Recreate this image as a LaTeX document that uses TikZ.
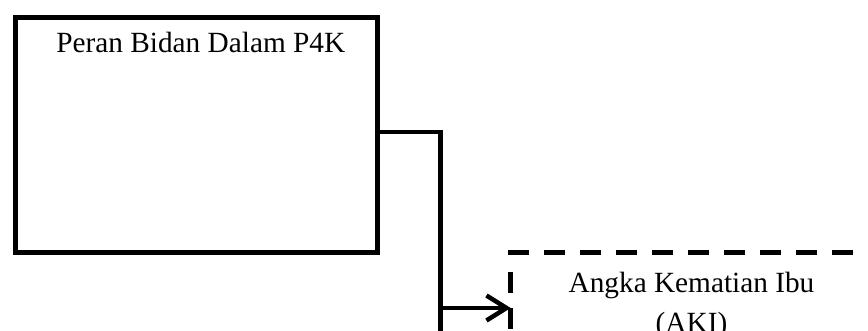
\documentclass[tikz,border=0pt]{standalone}
\usepackage{fontspec}
\setmainfont{Liberation Serif}
\usetikzlibrary{arrows.meta}
\begin{document}
\begin{tikzpicture}[x=1pt,y=-1pt,
  solidbox/.style={draw=black, line width=5pt, minimum width=362pt, minimum height=235.5pt, inner sep=0pt},
  hiddenbox/.style={draw=none, minimum width=362pt, minimum height=235.5pt, inner sep=0pt},
  dashline/.style={draw=black, line width=5pt, dash pattern=on 21pt off 15pt},
  conn/.style={draw=black, line width=4.5pt},
  arrowconn/.style={conn, -{Straight Barb[length=20pt,width=25pt]}},
  lbl/.style={font=\fontsize{29.3}{40}\selectfont, inner sep=0pt, align=center}
]
\useasboundingbox (0,0) rectangle (868,331);
\clip (0,0) rectangle (868,331);
\fill[white] (0,0) rectangle (868,331);
% box 1
\node[solidbox] (p4k) at (196.5,135.25) {};
\node[lbl, anchor=base] (p4ktext) at (200.8,53) {Peran Bidan Dalam P4K};
% box 2 (dashed, extends past the page)
\node[hiddenbox, anchor=north west] (aki) at (510.7,252.5) {};
\draw[dashline] ([xshift=-2.5pt]aki.north west) -- (aki.north east) -- (aki.south east) -- (aki.south west);
\draw[dashline] ([yshift=-19.5pt]aki.north west) -- (aki.south west);
\node[lbl, anchor=base] (akitext) at (691.5,333) {Angka Kematian Ibu\\(AKI)};
% connectors
\coordinate (bend) at (440.5,132);
\coordinate (vend) at (440.5,345);
\coordinate (junc) at (440.5,308);
\draw[conn] ([yshift=3.25pt]p4k.east) -- (bend) -- (vend);
\draw[arrowconn] (junc) -- (junc -| aki.west);
\end{tikzpicture}
\end{document}
